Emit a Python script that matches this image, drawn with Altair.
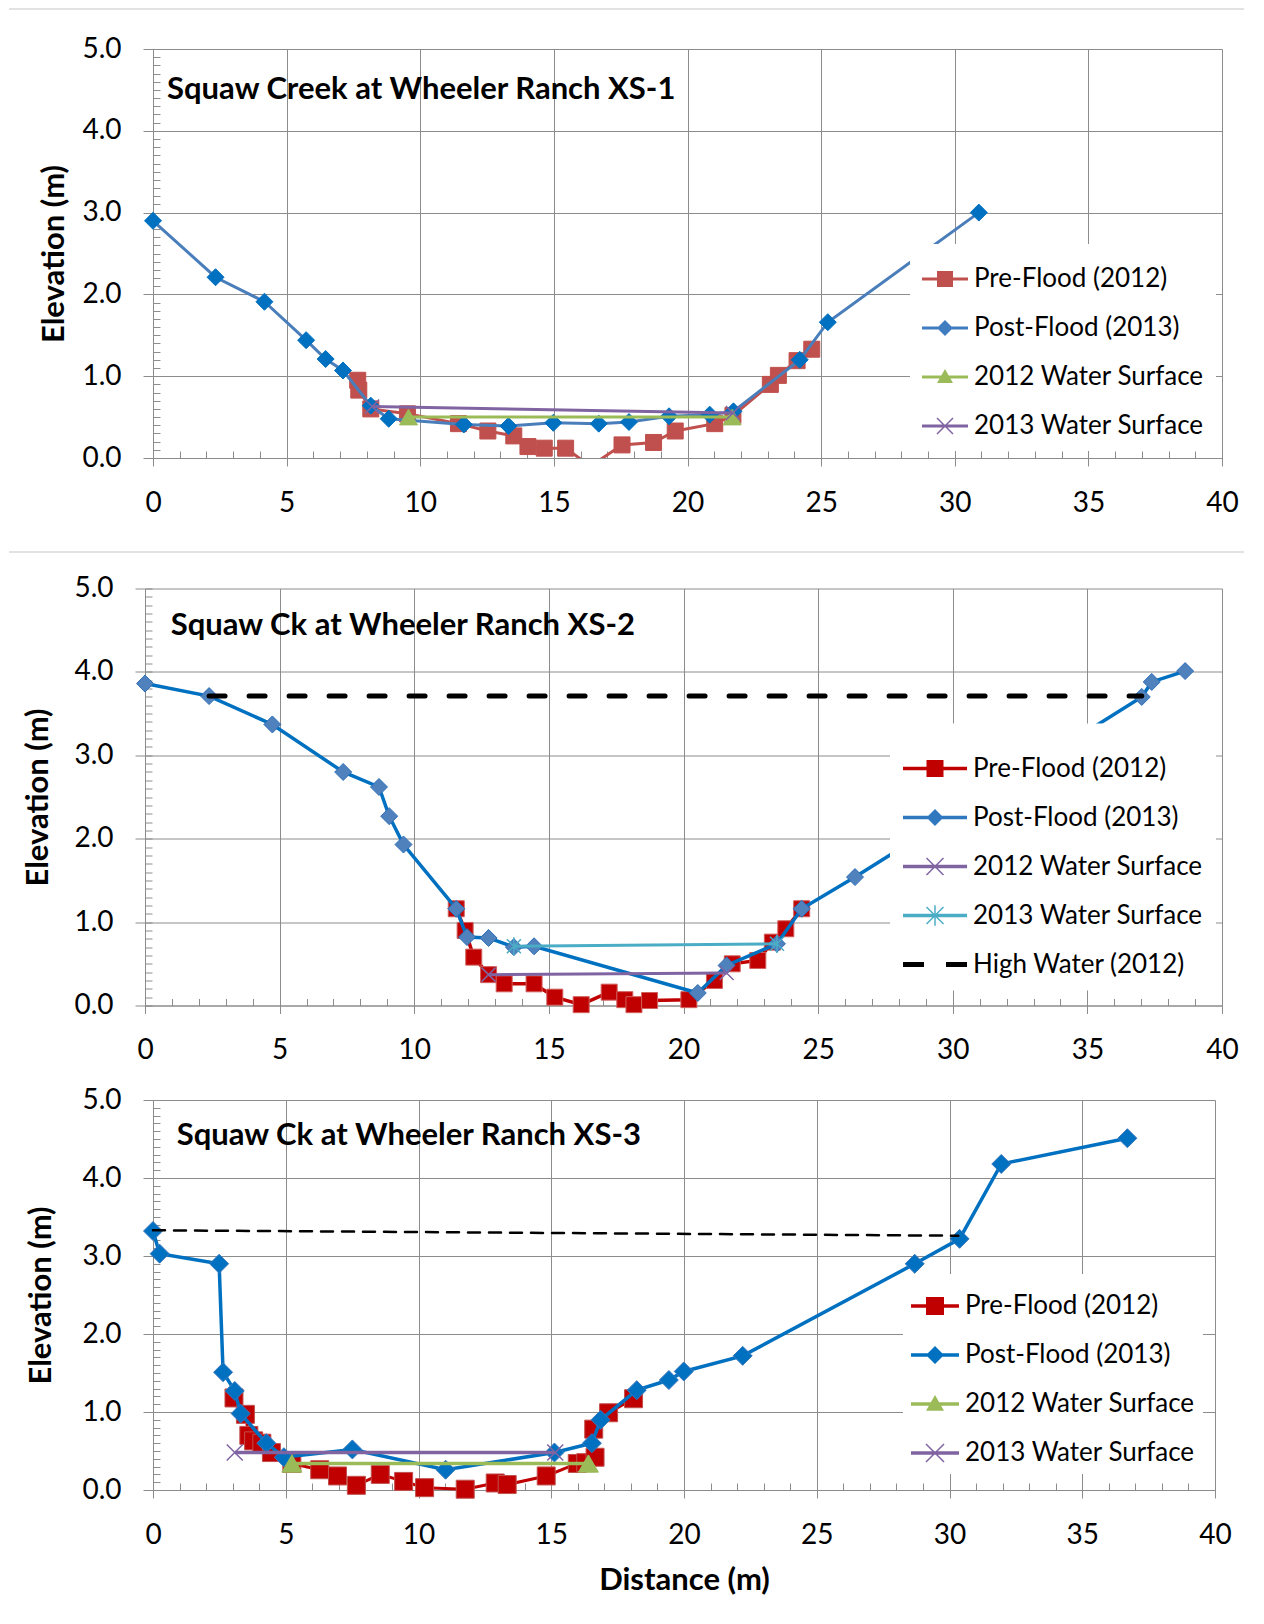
import altair as alt
import pandas as pd

FONT = "Lato"
GRID = "#8C8C8C"
FRAME = "#D9D9D9"

# ---------------- XS-1 data ----------------
xs1_pre_x = [7.66, 7.70, 8.15, 9.52, 11.43, 12.53, 13.50, 14.03, 14.64, 15.44, 16.37, 17.55, 18.73, 19.54, 21.02, 21.70, 23.10, 23.40, 24.10, 24.65]
xs1_pre_y = [0.95, 0.83, 0.60, 0.54, 0.42, 0.33, 0.27, 0.14, 0.12, 0.12, -0.10, 0.16, 0.19, 0.33, 0.42, 0.52, 0.90, 1.01, 1.19, 1.33]
xs1_post_x = [0.00, 2.34, 4.17, 5.73, 6.46, 7.11, 8.15, 8.82, 11.63, 13.30, 14.98, 16.68, 17.81, 19.31, 20.83, 21.72, 24.20, 25.25, 30.90]
xs1_post_y = [2.90, 2.21, 1.91, 1.44, 1.21, 1.07, 0.64, 0.48, 0.41, 0.39, 0.43, 0.42, 0.44, 0.51, 0.53, 0.57, 1.20, 1.66, 3.00]
xs1_ws12_x = [9.56, 21.67]
xs1_ws12_y = [0.50, 0.50]
xs1_ws13_x = [8.20, 21.70]
xs1_ws13_y = [0.63, 0.55]

# ---------------- XS-2 data ----------------
xs2_pre_x = [11.56, 11.89, 12.21, 12.76, 13.34, 14.45, 15.22, 16.20, 17.24, 17.82, 18.16, 18.74, 20.20, 21.15, 21.81, 22.76, 23.30, 23.80, 24.39]
xs2_pre_y = [1.16, 0.90, 0.58, 0.37, 0.26, 0.26, 0.10, 0.01, 0.16, 0.07, 0.01, 0.06, 0.07, 0.30, 0.50, 0.54, 0.76, 0.92, 1.16]
xs2_post_x = [0.00, 2.38, 4.73, 7.36, 8.69, 9.07, 9.60, 11.56, 11.96, 12.76, 13.70, 14.45, 20.53, 21.60, 23.47, 24.39, 26.37, 37.02, 37.39, 38.63]
xs2_post_y = [3.86, 3.71, 3.37, 2.80, 2.62, 2.27, 1.93, 1.16, 0.82, 0.81, 0.70, 0.71, 0.15, 0.48, 0.74, 1.16, 1.54, 3.70, 3.88, 4.01]
xs2_ws12_x = [12.76, 21.60]
xs2_ws12_y = [0.37, 0.39]
xs2_ws13_x = [13.70, 23.47]
xs2_ws13_y = [0.71, 0.74]
xs2_hw_x = [2.38, 37.02]
xs2_hw_y = [3.71, 3.71]

# ---------------- XS-3 data ----------------
xs3_pre_x = [3.05, 3.48, 3.61, 3.79, 4.10, 4.46, 5.23, 6.28, 6.95, 7.66, 8.56, 9.44, 10.23, 11.76, 12.89, 13.34, 14.81, 15.98, 16.30, 16.65, 16.60, 17.16, 18.10]
xs3_pre_y = [1.18, 0.97, 0.70, 0.63, 0.60, 0.48, 0.34, 0.26, 0.18, 0.06, 0.20, 0.11, 0.03, 0.01, 0.09, 0.07, 0.18, 0.34, 0.35, 0.42, 0.78, 0.99, 1.17]
xs3_post_x = [0.00, 0.25, 2.49, 2.64, 3.08, 3.30, 4.27, 4.93, 7.51, 11.02, 15.12, 16.53, 16.86, 18.22, 19.43, 19.99, 22.21, 28.69, 30.38, 31.95, 36.70]
xs3_post_y = [3.32, 3.03, 2.90, 1.51, 1.27, 0.98, 0.60, 0.42, 0.52, 0.26, 0.48, 0.60, 0.90, 1.28, 1.41, 1.52, 1.72, 2.90, 3.22, 4.18, 4.51]
xs3_ws12_x = [5.23, 16.40]
xs3_ws12_y = [0.34, 0.34]
xs3_ws13_x = [3.08, 15.15]
xs3_ws13_y = [0.48, 0.48]
xs3_hw_x = [0.00, 30.33]
xs3_hw_y = [3.33, 3.26]

X_TICKS = [0, 5, 10, 15, 20, 25, 30, 35, 40]
Y_TICKS = [0, 1, 2, 3, 4, 5]
X_MINOR = list(range(0, 41))
Y_MINOR = [i / 10 for i in range(0, 51)]

X_PATH = "M-1,-1L1,1M-1,1L1,-1"
STAR_PATH = "M-1,-1L1,1M-1,1L1,-1M0,-1.3L0,1.3"

TICK_FS = 28
BOLD_FS = 31
LEG_FS = 26


# ---------------- legend symbol paths (line + marker, all filled) ----------------
def _rect(x0, y0, x1, y1):
    return f"M{x0:.4f},{y0:.4f}L{x1:.4f},{y0:.4f}L{x1:.4f},{y1:.4f}L{x0:.4f},{y1:.4f}Z"


def _bar(p, q, w):
    dx, dy = q[0] - p[0], q[1] - p[1]
    ln = (dx * dx + dy * dy) ** 0.5
    nx, ny = -dy / ln * w, dx / ln * w
    pts = [(p[0] - nx, p[1] - ny), (q[0] - nx, q[1] - ny), (q[0] + nx, q[1] + ny), (p[0] + nx, p[1] + ny)]
    return "M" + "L".join(f"{a:.4f},{b:.4f}" for a, b in pts) + "Z"


def legend_path(kind, L, m, t):
    u = L / 2.0
    h = t / 2.0 / u
    r = m / 2.0 / u
    if kind == "dash":
        g = 11.0 / u
        return _rect(-1, -h, -g, h) + _rect(g, -h, 1, h)
    s = _rect(-1, -h, 1, h)
    if kind == "square":
        s += _rect(-r, -r, r, r)
    elif kind == "diamond":
        s += f"M0,{-r:.4f}L{r:.4f},0L0,{r:.4f}L{-r:.4f},0Z"
    elif kind == "triangle":
        s += f"M0,{-r:.4f}L{r:.4f},{0.75 * r:.4f}L{-r:.4f},{0.75 * r:.4f}Z"
    elif kind in ("x", "star"):
        w = 0.75 / u
        s += _bar((-r, -r), (r, r), w) + _bar((-r, r), (r, -r), w)
        if kind == "star":
            s += _rect(-w, -r * 1.2, w, r * 1.2)
    return s


def build_panel(series, legend_items, leg, title, title_dx, title_offset, inset, Wp, H, ytp, xaxis_extra,
                frame_rules=()):
    W = inset + Wp

    def xenc(axis):
        return alt.X("x:Q", scale=alt.Scale(domain=[0, 40], range=[inset, W], nice=False, zero=False), axis=axis)

    def yenc(axis):
        return alt.Y("y:Q", scale=alt.Scale(domain=[0, 5], nice=False, zero=False), axis=axis)

    major_x = alt.Axis(values=X_TICKS, format="d", grid=True, gridColor=GRID, gridWidth=1,
                       domainColor=GRID, domainWidth=1, tickColor=GRID, tickSize=8, tickWidth=1,
                       labelFlush=False, labelPadding=23, labelFontSize=TICK_FS, labelFont=FONT,
                       labelColor="black", **xaxis_extra)
    major_y = alt.Axis(values=Y_TICKS, format=".1f", grid=True, gridColor=GRID, gridWidth=1,
                       domainColor=GRID, domainWidth=1, tickColor=GRID, tickSize=10, tickWidth=1,
                       offset=-inset, labelPadding=22, labelFontSize=TICK_FS, labelFont=FONT, labelColor="black",
                       title="Elevation (m)", titleFont=FONT, titleFontSize=BOLD_FS, titleFontWeight="bold",
                       titleColor="black", titlePadding=ytp)
    minor_x = alt.Axis(orient="top", offset=-H, values=X_MINOR, tickSize=7, tickColor=GRID, tickWidth=1,
                       labels=False, domain=False, grid=False, title=None)
    minor_y = alt.Axis(orient="right", offset=-Wp, values=Y_MINOR, tickSize=7, tickColor=GRID, tickWidth=1,
                       labels=False, domain=False, grid=False, title=None)

    layers = []
    # light-grey worksheet frame lines (decoration only)
    for (fx1, fx2, fy) in frame_rules:
        layers.append(
            alt.Chart(pd.DataFrame({"k": [0]})).mark_rule(color=FRAME, strokeWidth=1.5).encode(
                x=alt.value(fx1), x2=alt.value(fx2), y=alt.value(fy)
            )
        )
    for k, s in enumerate(series):
        df = pd.DataFrame({"x": s["x"], "y": s["y"], "i": list(range(len(s["x"])))})
        lkw = dict(color=s["color"], strokeWidth=s["lw"])
        if "dash" in s:
            lkw["strokeDash"] = s["dash"]
            lkw["strokeCap"] = "round"
        if s.get("clip"):
            lkw["clip"] = True
        line = alt.Chart(df).mark_line(**lkw).encode(
            x=xenc(major_x if k == 0 else None),
            y=yenc(major_y if k == 0 else None),
            order="i:Q",
        )
        layers.append(line)
        if "shape" in s:
            pkw = dict(shape=s["shape"], size=s["size"], opacity=1)
            if s.get("hollow"):
                pkw.update(filled=False, stroke=s["mstroke"], strokeWidth=s.get("msw", 1.5))
            else:
                pkw.update(filled=True, fill=s["fill"], stroke=s["mstroke"], strokeWidth=1)
            pts = alt.Chart(df).transform_filter("datum.y >= 0").mark_point(**pkw).encode(
                x=xenc(minor_x if k == 0 else None),
                y=yenc(minor_y if k == 0 else None),
            )
            layers.append(pts)

    names = [it["name"] for it in legend_items]
    colors = [it["color"] for it in legend_items]
    paths = [legend_path(it["kind"], leg["L"], leg["m"], it["t"]) for it in legend_items]
    frames = [pd.DataFrame({"x": it["x"], "y": it["y"], "series": it["name"]}) for it in legend_items]
    leg_df = pd.concat(frames, ignore_index=True)
    legend = alt.Legend(title=None, orient="none", legendX=leg["x"], legendY=leg["y"], direction="vertical",
                        fillColor="white", padding=leg["pad"], labelFont=FONT, labelFontSize=LEG_FS,
                        labelColor="black", labelLimit=600, labelOffset=leg["lo"], rowPadding=leg["rp"],
                        symbolSize=leg["L"] * leg["L"], symbolStrokeWidth=0, symbolOpacity=1)
    leg_layer = alt.Chart(leg_df).mark_point(filled=True, opacity=0, size=leg["L"] * leg["L"]).encode(
        x=xenc(None),
        y=yenc(None),
        color=alt.Color("series:N", scale=alt.Scale(domain=names, range=colors), legend=legend),
        shape=alt.Shape("series:N", scale=alt.Scale(domain=names, range=paths), legend=legend),
    )
    layers.append(leg_layer)

    return alt.layer(*layers).resolve_axis(x="independent", y="independent").properties(
        width=W, height=H,
        title=alt.TitleParams(text=title, anchor="start", frame="group", dx=title_dx, offset=title_offset,
                              fontSize=BOLD_FS, font=FONT, fontWeight="bold", color="black"),
    )


# ---------------- Panel 1 ----------------
p1_series = [
    dict(x=xs1_pre_x, y=xs1_pre_y, color="#C0504D", lw=3, clip=True, shape="square", size=256, fill="#C0504D", mstroke="#C0504D"),
    dict(x=xs1_post_x, y=xs1_post_y, color="#4A7EBB", lw=3, shape="diamond", size=289, fill="#0070C0", mstroke="#0070C0"),
    dict(x=xs1_ws12_x, y=xs1_ws12_y, color="#9BBB59", lw=3, shape="triangle-up", size=324, fill="#9BBB59", mstroke="#9BBB59"),
    dict(x=xs1_ws13_x, y=xs1_ws13_y, color="#8064A2", lw=3, shape=X_PATH, size=196, hollow=True, mstroke="#8064A2", msw=1.5),
]
p1_legend = [
    dict(name="Pre-Flood (2012)", color="#C0504D", kind="square", t=3, x=xs1_pre_x, y=xs1_pre_y),
    dict(name="Post-Flood (2013)", color="#3F7CC0", kind="diamond", t=3, x=xs1_post_x, y=xs1_post_y),
    dict(name="2012 Water Surface", color="#9BBB59", kind="triangle", t=3, x=xs1_ws12_x, y=xs1_ws12_y),
    dict(name="2013 Water Surface", color="#8064A2", kind="x", t=3, x=xs1_ws13_x, y=xs1_ws13_y),
]
p1 = build_panel(p1_series, p1_legend,
                 dict(x=765, y=195, L=46, m=16, pad=12, lo=6, rp=13),
                 "Squaw Creek at Wheeler Ranch XS-1", 22, -98, 8, 1069, 409, 11.6,
                 dict(title=".", titleOpacity=0, titleFontSize=10, titlePadding=25.5),
                 frame_rules=[(-136, 1099, -40), (-136, 1099, 409 + 94)])

# ---------------- Panel 2 ----------------
p2_series = [
    dict(x=xs2_pre_x, y=xs2_pre_y, color="#C00000", lw=3.5, shape="square", size=256, fill="#C00000", mstroke="#D0605D"),
    dict(x=xs2_post_x, y=xs2_post_y, color="#0070C0", lw=3.5, shape="diamond", size=289, fill="#4F81BD", mstroke="#2F6FB8"),
    dict(x=xs2_ws12_x, y=xs2_ws12_y, color="#8064A2", lw=3, shape=X_PATH, size=196, hollow=True, mstroke="#8064A2", msw=1.5),
    dict(x=xs2_ws13_x, y=xs2_ws13_y, color="#4BACC6", lw=3, shape=STAR_PATH, size=196, hollow=True, mstroke="#4BACC6", msw=1.5),
    dict(x=xs2_hw_x, y=xs2_hw_y, color="#000000", lw=5, dash=[16, 24]),
]
p2_legend = [
    dict(name="Pre-Flood (2012)", color="#C00000", kind="square", t=3.5, x=xs2_pre_x, y=xs2_pre_y),
    dict(name="Post-Flood (2013)", color="#2F78C0", kind="diamond", t=3.5, x=xs2_post_x, y=xs2_post_y),
    dict(name="2012 Water Surface", color="#8064A2", kind="x", t=3.5, x=xs2_ws12_x, y=xs2_ws12_y),
    dict(name="2013 Water Surface", color="#4BACC6", kind="star", t=3.5, x=xs2_ws13_x, y=xs2_ws13_y),
    dict(name="High Water (2012)", color="#000000", kind="dash", t=5, x=xs2_hw_x, y=xs2_hw_y),
]
p2 = build_panel(p2_series, p2_legend,
                 dict(x=745, y=135, L=64, m=17, pad=13, lo=6, rp=4),
                 "Squaw Ck at Wheeler Ranch XS-2", 25.7, -67.5, 0, 1077, 417, 19.6, dict(title=None))

# ---------------- Panel 3 ----------------
p3_series = [
    dict(x=xs3_pre_x, y=xs3_pre_y, color="#C00000", lw=3, shape="square", size=324, fill="#C00000", mstroke="#C0504D"),
    dict(x=xs3_post_x, y=xs3_post_y, color="#0070C0", lw=3.5, shape="diamond", size=361, fill="#0070C0", mstroke="#3A78BE"),
    dict(x=xs3_ws12_x, y=xs3_ws12_y, color="#9BBB59", lw=3.5, shape="triangle-up", size=400, fill="#9BBB59", mstroke="#9BBB59"),
    dict(x=xs3_ws13_x, y=xs3_ws13_y, color="#8064A2", lw=3.5, shape=X_PATH, size=256, hollow=True, mstroke="#8064A2", msw=1.5),
    dict(x=xs3_hw_x, y=xs3_hw_y, color="#000000", lw=2.5, dash=[12, 9]),
]
p3_legend = [
    dict(name="Pre-Flood (2012)", color="#C00000", kind="square", t=3.5, x=xs3_pre_x, y=xs3_pre_y),
    dict(name="Post-Flood (2013)", color="#0070C0", kind="diamond", t=3.5, x=xs3_post_x, y=xs3_post_y),
    dict(name="2012 Water Surface", color="#9BBB59", kind="triangle", t=3.5, x=xs3_ws12_x, y=xs3_ws12_y),
    dict(name="2013 Water Surface", color="#8064A2", kind="x", t=3.5, x=xs3_ws13_x, y=xs3_ws13_y),
]
p3 = build_panel(p3_series, p3_legend,
                 dict(x=758, y=174, L=48, m=18, pad=8, lo=6, rp=12),
                 "Squaw Ck at Wheeler Ranch XS-3", 31.7, -65.5, 8, 1062, 390, 24.1,
                 dict(title="Distance (m)", titleFont=FONT, titleFontSize=BOLD_FS, titleFontWeight="bold",
                      titleColor="black", titlePadding=16.5))

chart = alt.vconcat(p1, p2, p3, spacing=21.5).resolve_scale(
    color="independent", shape="independent"
).properties(
    padding={"left": 0, "top": 0, "right": 5, "bottom": 5}
).configure(font=FONT, background="white").configure_view(stroke=None)

chart.save("out.html", embed_options={"renderer": "svg", "actions": False})
